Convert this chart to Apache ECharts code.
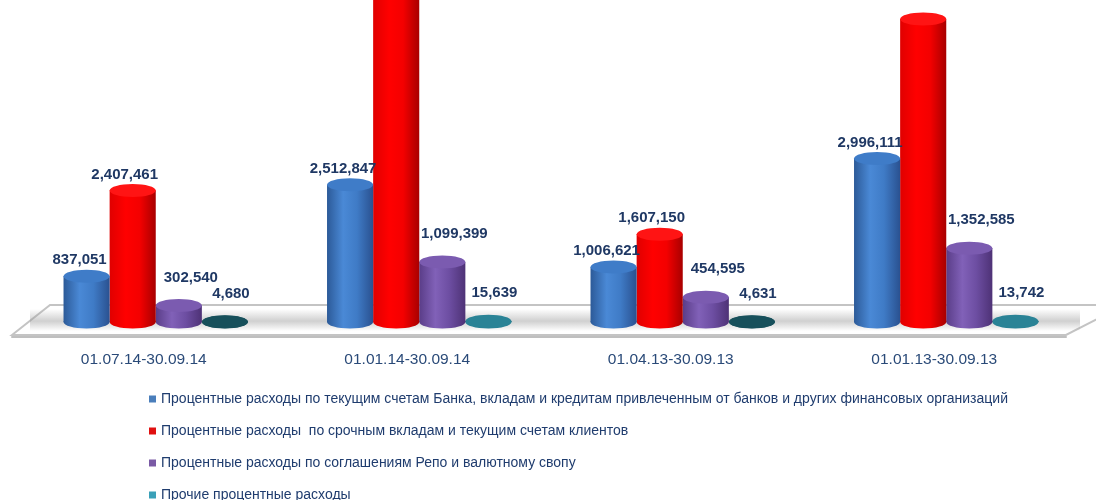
<!DOCTYPE html>
<html>
<head>
<meta charset="utf-8">
<style>
  html, body { margin: 0; padding: 0; background: #ffffff; }
  #chart { width: 1096px; height: 500px; }
</style>
<script src="https://cdn.jsdelivr.net/npm/echarts@6/dist/echarts.min.js"></script>
</head>
<body>
<div id="chart"></div>
<script>
// периоды
var categories = ['01.07.14-30.09.14', '01.01.14-30.09.14', '01.04.13-30.09.13', '01.01.13-30.09.13'];
var seriesNames = [
    'Процентные расходы по текущим счетам Банка, вкладам и кредитам привлеченным от банков и других финансовых организаций',
    'Процентные расходы  по срочным вкладам и текущим счетам клиентов',
    'Процентные расходы по соглашениям Репо и валютному свопу',
    'Прочие процентные расходы'
];
var bankValues = [837051, 2512847, 1006621, 2996111];
var clientValues = [2407461, 6300000, 1607150, 5550000];   // 2-й и 4-й обрезаны сверху, оценка
var repoValues = [302540, 1099399, 454595, 1352585];
var otherValues = [4680, 15639, 4631, 13742];

var allValues = [bankValues, clientValues, repoValues, otherValues];

// оформление цилиндров
var looks = [
    { legend: '#4a7ebb', body: ['#2c5a98', '#4a89d6', '#3f7bc6', '#2a5190'], top: '#3f7cc8', dx: -7, gap: 2 },
    { legend: '#e01010', body: ['#e00000', '#ff0000', '#f40000', '#a80000'], top: '#ff1414', dx: -8, gap: 2 },
    { legend: '#7a5aa5', body: ['#5a3d88', '#8161b8', '#6d4ea2', '#4e3276'], top: '#7b5bb0', dx: 12, gap: 14 },
    { legend: '#3aa0b8', body: ['#17505b', '#2a8396', '#236f80', '#17505b'], top: '#2a8396', dx: 6, gap: 14 }
];
var otherTops = ['#17505b', '#2a8396', '#17505b', '#2a8396'];

function fmt(v) {
    return v.toLocaleString('en-US');
}

function renderCylinder(params, api) {
    var s = params.seriesIndex;
    var look = looks[s];
    var cat = api.value(0), val = api.value(1);
    var base = api.coord([cat, 0]);
    var top = api.coord([cat, val]);
    var catW = api.size([1, 0])[0];
    var bw = catW * 0.175;
    var x = base[0] + (s - 2) * bw;
    var rx = bw / 2, ry = 6.5;
    var cx = x + rx;
    var grad = new echarts.graphic.LinearGradient(0, 0, 1, 0, [
        { offset: 0, color: look.body[0] },
        { offset: 0.35, color: look.body[1] },
        { offset: 0.65, color: look.body[2] },
        { offset: 1, color: look.body[3] }
    ]);
    var topColor = s === 3 ? otherTops[cat] : look.top;
    var children = [
        { type: 'ellipse', shape: { cx: cx, cy: base[1], rx: rx, ry: ry }, style: { fill: s === 3 ? topColor : grad } },
        { type: 'rect', shape: { x: x, y: top[1], width: bw, height: Math.max(base[1] - top[1], 0) }, style: { fill: grad } },
        { type: 'ellipse', shape: { cx: cx, cy: top[1], rx: rx, ry: ry }, style: { fill: topColor } }
    ];
    var labelY = top[1] - ry - look.gap;
    if (labelY > 20) {
        children.push({
            type: 'text', x: cx + look.dx, y: labelY, z2: 100,
            style: { text: fmt(val), fill: '#1f3864', font: 'bold 15px "Liberation Sans"', align: 'center', verticalAlign: 'bottom' }
        });
    }
    return { type: 'group', children: children };
}

var series = [];
for (var i = 0; i < 4; i++) {
    var d = [];
    for (var c = 0; c < categories.length; c++) d.push([c, allValues[i][c]]);
    series.push({
        name: seriesNames[i],
        type: 'custom',
        xAxisIndex: 1,
        yAxisIndex: 1,
        z: 10 - i,
        itemStyle: { color: looks[i].legend },
        renderItem: renderCylinder,
        data: d
    });
}

var chart = echarts.init(document.getElementById('chart'));
chart.setOption({
    backgroundColor: '#ffffff',
    animation: false,
    textStyle: { fontFamily: 'Liberation Sans' },
    grid: [
        { left: 12, right: 30, top: 0, bottom: 163 },
        { left: 24, right: 18, top: 0, bottom: 160 }
    ],
    xAxis: [{
        type: 'category', gridIndex: 0, data: categories,
        axisLine: { lineStyle: { color: '#bfbfbf', width: 2 } },
        axisTick: { length: 6, lineStyle: { color: '#bfbfbf', width: 2 } },
        axisLabel: { color: '#2a4a78', fontSize: 15.5, margin: 15 }
    }, {
        type: 'category', gridIndex: 1, data: categories, show: false
    }],
    yAxis: [{
        type: 'value', gridIndex: 0, show: false
    }, {
        type: 'value', gridIndex: 1, show: false, min: -330000, max: 5900000
    }],
    legend: {
        orient: 'vertical', left: 144, top: 387, height: 160,
        itemWidth: 7, itemHeight: 7, itemGap: 18, icon: 'rect',
        textStyle: { color: '#1f3c6e', fontSize: 14, lineHeight: 14 },
        data: seriesNames
    },
    graphic: [
        {   // пол
            type: 'polygon', z: 0, silent: true,
            shape: { points: [[12, 335], [50, 305], [1125, 305], [1066, 335]] },
            style: { fill: '#ffffff', stroke: '#c4c4c4', lineWidth: 2 }
        },
        {   // тень на полу
            type: 'rect', z: 1, silent: true,
            shape: { x: 30, y: 309, width: 1050, height: 22 },
            style: {
                fill: new echarts.graphic.LinearGradient(0, 0, 0, 1, [
                    { offset: 0, color: 'rgba(150,150,150,0)' },
                    { offset: 0.55, color: 'rgba(150,150,150,0.45)' },
                    { offset: 1, color: 'rgba(150,150,150,0)' }
                ])
            }
        }
    ],
    series: series
});

window.addEventListener('resize', function () {
    chart.resize();
});
</script>
</body>
</html>
